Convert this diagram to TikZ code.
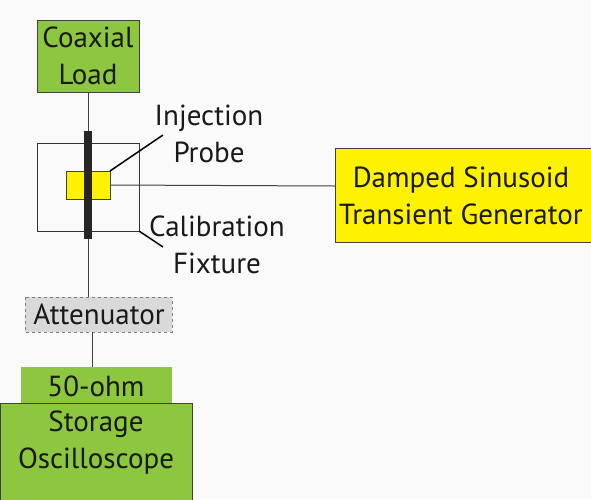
\documentclass[tikz,border=0pt]{standalone}
\usepackage{fontspec}
\setmainfont{PT Sans}
\definecolor{lgreen}{HTML}{8DC63F}
\definecolor{pyellow}{HTML}{FFF200}
\definecolor{lgray}{HTML}{D9D9D9}
\definecolor{edge}{HTML}{404040}
\begin{document}
\begin{tikzpicture}[x=1pt,y=-1pt,
  lbl/.style={font=\fontsize{29}{37}\selectfont, align=center, inner sep=0pt, text=black!90},
  wire/.style={draw=edge, line width=1pt},
  greenbox/.style={fill=lgreen, draw=edge, line width=0.8pt},
  ]
\useasboundingbox (0,0) rectangle (591,499);
\fill[white!98!black] (0,0) rectangle (591,499);
% boxes
\draw[greenbox] (37,20) rectangle (139,92);
\node[lbl] (load) at (88,56) {Coaxial\\Load};
\coordinate (loadb) at (88,92);
\draw[draw=black!80, line width=0.8pt] (37,143) rectangle (139,231);
\coordinate (fixc) at (139,231);
\draw[fill=pyellow, draw=edge, line width=0.8pt] (66,171) rectangle (110,199);
\coordinate (probetr) at (110,171);
\coordinate (prober) at (110,185);
\fill[black!85] (84,131) rectangle (92,239);
\coordinate (bart) at (88,131);
\coordinate (barb) at (88,239);
\draw[fill=pyellow, draw=edge, line width=0.8pt] (335,148) rectangle (591,242);
\node[lbl] (gen) at (461,196) {Damped Sinusoid\\Transient Generator};
\coordinate (genl) at (335,186);
\node[lbl] (probe) at (209,134) {Injection\\Probe};
\node[lbl] (fix) at (217,245) {Calibration\\Fixture};
\draw[fill=lgray, draw=gray, dashed, line width=0.8pt] (25,297) rectangle (172,332);
\node[lbl] (att) at (99,314) {Attenuator};
\coordinate (attt) at (88,297);
\coordinate (attb) at (92,332);
\fill[lgreen] (21,367) rectangle (172,403);
\node[lbl] (ohm) at (96,386) {50-ohm};
\coordinate (ohmt) at (92,367);
\draw[greenbox] (0,403) rectangle (192,510);
\node[lbl] (osc) at (96,443) {Storage\\Oscilloscope};
% wires
\draw[wire] (loadb) -- (bart);
\draw[wire] (prober) -- (genl);
\draw[wire] (barb) -- (attt);
\draw[wire] (attb) -- (ohmt);
\draw[draw=black, line width=1.5pt] (probetr) -- (163,135);
\draw[draw=black, line width=1.5pt] (fixc) -- (163,247);
\end{tikzpicture}
\end{document}
